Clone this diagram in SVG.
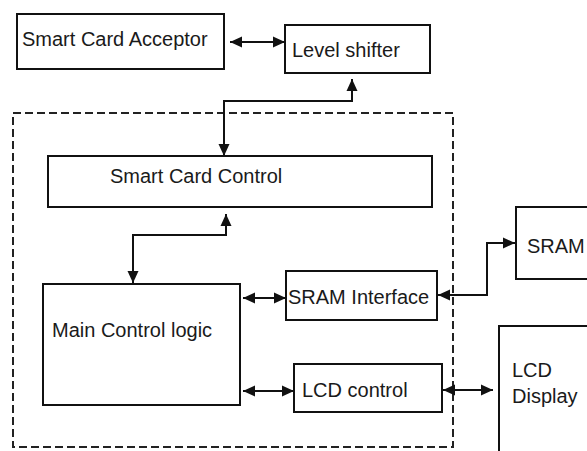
<svg xmlns="http://www.w3.org/2000/svg" width="587" height="451" viewBox="0 0 587 451">
<style>
.box{fill:#fff;stroke:#111;stroke-width:2}
.lbl{font-family:"Liberation Sans",Arial,sans-serif;font-size:20px;fill:#1a1a1a}
.con{fill:none;stroke:#111;stroke-width:2;marker-start:url(#ah);marker-end:url(#ah)}
.dash{fill:none;stroke:#222;stroke-width:2;stroke-dasharray:8 4}
</style>
<defs>
<marker id="ah" markerUnits="userSpaceOnUse" markerWidth="12" markerHeight="12" viewBox="0 0 12 12" refX="12" refY="6" orient="auto-start-reverse">
<path d="M0,0.5 L12,6 L0,11.5 Z" fill="#111"/>
</marker>
</defs>
<rect width="587" height="451" fill="#fff"/>
<g id="boundary"><rect class="dash" x="13" y="113" width="440" height="334"/></g>
<g id="smart-card-acceptor"><rect class="box" x="17" y="14" width="207" height="55"/><text class="lbl" x="22" y="46">Smart Card Acceptor</text></g>
<g id="level-shifter"><rect class="box" x="285" y="25" width="145" height="48"/><text class="lbl" x="292" y="57">Level shifter</text></g>
<g id="smart-card-control"><rect class="box" x="48" y="156" width="384" height="51"/><text class="lbl" x="110" y="183">Smart Card Control</text></g>
<g id="main-control-logic"><rect class="box" x="43" y="284" width="197" height="121"/><text class="lbl" x="52" y="337">Main Control logic</text></g>
<g id="sram-interface"><rect class="box" x="286" y="271" width="151" height="49"/><text class="lbl" x="288" y="304">SRAM Interface</text></g>
<g id="lcd-control"><rect class="box" x="294" y="364" width="148" height="48"/><text class="lbl" x="302" y="397">LCD control</text></g>
<g id="sram"><rect class="box" x="516" y="207" width="80" height="72"/><text class="lbl" x="527" y="253">SRAM</text></g>
<g id="lcd-display"><rect class="box" x="499" y="326" width="100" height="140"/><text class="lbl" x="512" y="377">LCD</text><text class="lbl" x="512" y="403">Display</text></g>
<g id="connectors">
<path class="con" d="M230,42 H285"/>
<path class="con" d="M352,79 V101 H224 V156"/>
<path class="con" d="M226,214 V235 H133 V283"/>
<path class="con" d="M243,298 H286"/>
<path class="con" d="M243,391 H294"/>
<path class="con" d="M438,295 H487 V243 H515"/>
<path class="con" d="M443,390 H493"/>
</g>
</svg>
